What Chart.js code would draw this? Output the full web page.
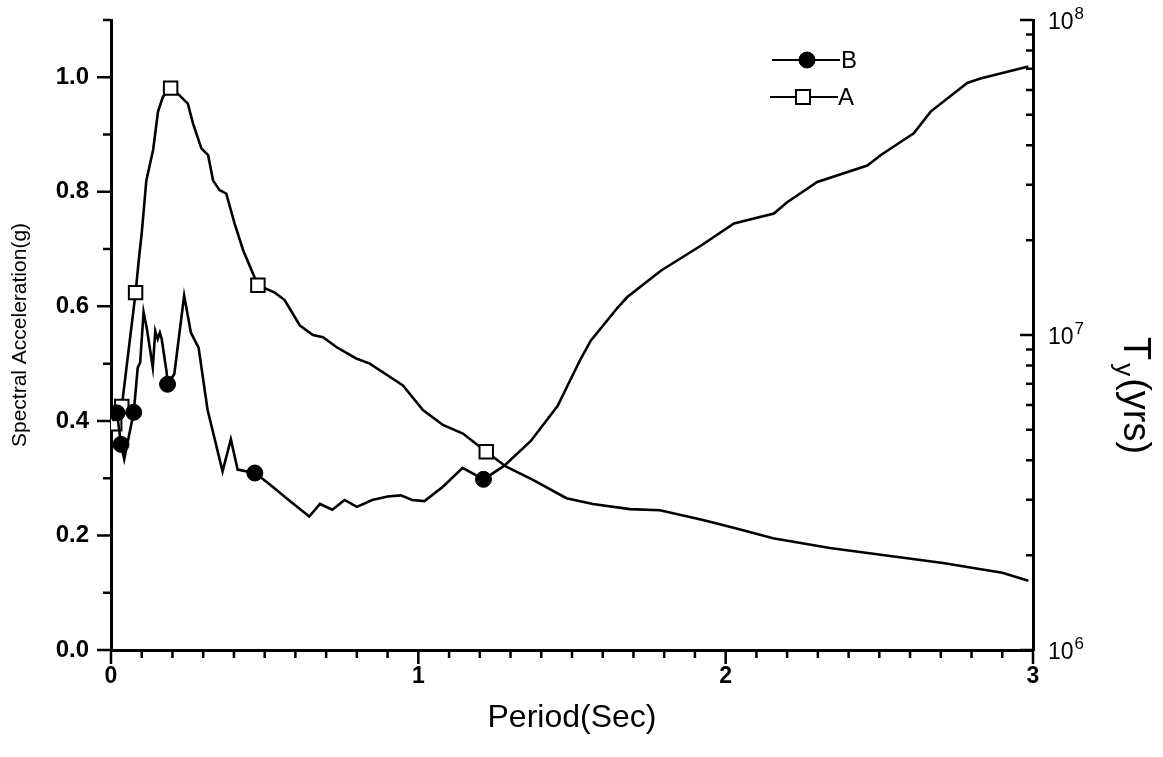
<!DOCTYPE html>
<html>
<head>
<meta charset="utf-8">
<script src="https://cdn.jsdelivr.net/npm/chart.js@4.4.1/dist/chart.umd.min.js"></script>
<style>
html,body{margin:0;padding:0;background:#fff;}
#wrap{width:1163px;height:757px;position:relative;}
</style>
</head>
<body>
<div id="wrap"><canvas id="c"></canvas></div>
<script>
// ---- Data ----
// Series B (filled circles): period (s), spectral acceleration (g)
const periodB = [0.005,0.0195,0.0325,0.043,0.074,0.087,0.095,0.106,0.117,0.136,0.144,0.152,0.159,0.165,0.181,0.184,0.206,0.238,0.26,0.285,0.314,0.363,0.39,0.412,0.468,0.51,0.575,0.645,0.68,0.72,0.76,0.80,0.85,0.90,0.943,0.98,1.02,1.08,1.144,1.212];
const accelB  = [0.40,0.414,0.359,0.333,0.415,0.493,0.502,0.59,0.56,0.493,0.557,0.543,0.554,0.543,0.485,0.464,0.482,0.619,0.554,0.528,0.42,0.312,0.368,0.315,0.309,0.292,0.263,0.233,0.255,0.245,0.262,0.25,0.262,0.268,0.27,0.262,0.26,0.285,0.318,0.298];
const markersB = [0.0195,0.0325,0.074,0.184,0.468,1.212];

// Series A (open squares)
const periodA = [0.003,0.012,0.035,0.08,0.091,0.10,0.115,0.137,0.153,0.169,0.194,0.218,0.25,0.267,0.294,0.316,0.332,0.353,0.375,0.402,0.43,0.478,0.533,0.565,0.614,0.657,0.69,0.733,0.798,0.842,0.95,1.015,1.08,1.145,1.221,1.286,1.373,1.482,1.568,1.688,1.786,1.926,2.035,2.154,2.339,2.48,2.707,2.9,2.985];
const accelA  = [0.385,0.395,0.425,0.624,0.684,0.728,0.82,0.873,0.94,0.966,0.981,0.971,0.954,0.919,0.876,0.864,0.82,0.803,0.797,0.745,0.698,0.637,0.624,0.611,0.567,0.55,0.546,0.529,0.509,0.5,0.462,0.419,0.393,0.378,0.346,0.32,0.297,0.265,0.255,0.246,0.244,0.227,0.212,0.195,0.178,0.168,0.152,0.135,0.121];
const markersA = [0.012,0.035,0.08,0.194,0.478,1.221];

// Ty (years), right log axis
const periodTy = [1.212,1.279,1.366,1.453,1.528,1.561,1.648,1.68,1.789,1.919,2.027,2.157,2.2,2.298,2.461,2.504,2.569,2.612,2.667,2.786,2.829,2.985];
const ty       = [3.48e6,3.84e6,4.61e6,5.95e6,8.39e6,9.59e6,1.22e7,1.32e7,1.60e7,1.92e7,2.26e7,2.43e7,2.64e7,3.06e7,3.45e7,3.72e7,4.10e7,4.37e7,5.12e7,6.31e7,6.52e7,7.12e7];

const xTickLabels = ['0','1','2','3'];
const yTickValues = [0,0.2,0.4,0.6,0.8,1.0];
const rightTickValues = [1e6,1e7,1e8];
const rightTickExponents = ['6','7','8'];

const FONT = "'Liberation Sans', Arial, sans-serif";

function toXY(xs, ys){ return xs.map((x,i)=>({x:x,y:ys[i]})); }
function markerRadius(markers, r){
  return ctx => markers.indexOf(ctx.raw ? ctx.raw.x : -1) >= 0 ? r : 0;
}
function noPad(s){ s.paddingTop = 0; s.paddingBottom = 0; s.paddingLeft = 0; s.paddingRight = 0; }

// tick drawing plugin
const axisTicks = {
  id:'axisTicks',
  afterDraw(chart){
    const c = chart.ctx, x = chart.scales.x, y = chart.scales.y, y2 = chart.scales.y2;
    const ca = chart.chartArea;
    c.save();
    c.strokeStyle = '#000'; c.lineWidth = 2.5; c.lineCap = 'butt';
    c.beginPath();
    // left axis ticks (outward)
    for (let i=0;i<=11;i++){
      const v = i/10, py = y.getPixelForValue(v);
      const len = (i%2===0) ? 14 : 8;
      c.moveTo(ca.left, py); c.lineTo(ca.left-len, py);
    }
    // bottom axis ticks (outward)
    for (let i=0;i<=30;i++){
      const v = i/10, px = x.getPixelForValue(v);
      const len = (i%10===0) ? 14 : 8;
      c.moveTo(px, ca.bottom); c.lineTo(px, ca.bottom+len);
    }
    // right axis ticks (inward, log)
    for (let d=6; d<=8; d++){
      for (let m=1; m<=9; m++){
        if (d===8 && m>1) break;
        const v = m*Math.pow(10,d), py = y2.getPixelForValue(v);
        const len = (m===1) ? 13 : 7;
        c.moveTo(ca.right, py); c.lineTo(ca.right-len, py);
      }
    }
    c.stroke();

    // right axis tick labels 10^n
    c.fillStyle = '#000'; c.textAlign = 'left'; c.textBaseline = 'alphabetic';
    rightTickValues.forEach((v,i)=>{
      const py = y2.getPixelForValue(v);
      c.font = '23px ' + FONT;
      c.fillText('10', ca.right + 15, py + 9);
      const w = c.measureText('10').width;
      c.font = '17px ' + FONT;
      c.fillText(rightTickExponents[i], ca.right + 15 + w + 1, py - 1);
    });

    // right axis title T_y(yrs)
    c.translate(1124, 337);
    c.rotate(Math.PI/2);
    c.textBaseline = 'alphabetic'; c.textAlign = 'left';
    c.font = '38px ' + FONT;
    c.fillText('T', 0, 0);
    const wT = c.measureText('T').width;
    c.font = '26px ' + FONT;
    c.fillText('y', wT + 3, 8);
    const wy = c.measureText('y').width;
    c.font = '38px ' + FONT;
    c.fillText('(yrs)', wT + wy + 5, 0);
    c.restore();

    // legend
    const items = [
      {ds: chart.data.datasets[0], y: 60, x0: 772, x1: 840, mx: 807, tx: 841},
      {ds: chart.data.datasets[1], y: 97, x0: 770, x1: 838, mx: 803, tx: 838}
    ];
    c.save();
    items.forEach(it=>{
      c.strokeStyle = '#000'; c.lineWidth = 2;
      c.beginPath(); c.moveTo(it.x0, it.y); c.lineTo(it.x1, it.y); c.stroke();
      c.fillStyle = it.ds.pointBackgroundColor; c.strokeStyle = '#000';
      c.lineWidth = it.ds.pointBorderWidth;
      c.beginPath();
      if (it.ds.pointStyle === 'circle') { c.arc(it.mx, it.y, it.ds.legendRadius, 0, Math.PI*2); }
      else { const s = it.ds.legendRadius; c.rect(it.mx - s, it.y - s, 2*s, 2*s); }
      c.fill(); c.stroke();
      c.fillStyle = '#000'; c.font = '24px ' + FONT;
      c.textBaseline = 'middle'; c.textAlign = 'left';
      c.fillText(it.ds.label, it.tx, it.y + 1);
    });
    c.restore();
  }
};

new Chart(document.getElementById('c'), {
  type: 'line',
  data: {
    datasets: [
      {
        label: 'B', data: toXY(periodB, accelB), yAxisID: 'y',
        borderColor: '#000', borderWidth: 2.6, tension: 0,
        pointStyle: 'circle', pointRadius: markerRadius(markersB, 8),
        pointBackgroundColor: '#000', pointBorderColor: '#000', pointBorderWidth: 1,
        legendRadius: 8
      },
      {
        label: 'A', data: toXY(periodA, accelA), yAxisID: 'y',
        borderColor: '#000', borderWidth: 2.6, tension: 0,
        pointStyle: 'rect', pointRadius: markerRadius(markersA, 9.5),
        pointBackgroundColor: '#fff', pointBorderColor: '#000', pointBorderWidth: 2,
        legendRadius: 7
      },
      {
        label: 'Ty', data: toXY(periodTy, ty), yAxisID: 'y2',
        borderColor: '#000', borderWidth: 2.6, tension: 0, pointRadius: 0
      }
    ]
  },
  options: {
    responsive: true, maintainAspectRatio: false, animation: false,
    layout: { padding: { top: 20, left: 0, right: 0, bottom: 0 } },
    plugins: { legend: { display: false }, tooltip: { enabled: false } },
    scales: {
      x: {
        type: 'linear', min: 0, max: 3,
        afterFit: s => { s.height = 107; noPad(s); },
        grid: { display: false, drawTicks: false },
        border: { display: true, color: '#000', width: 3 },
        ticks: { stepSize: 1, padding: 13, color: '#000',
                 font: { family: FONT, size: 23, weight: 'bold' },
                 callback: v => xTickLabels[Math.round(v)] },
        title: { display: true, text: 'Period(Sec)', color: '#000',
                 font: { family: FONT, size: 32 }, padding: { top: 0, bottom: 20 } }
      },
      y: {
        type: 'linear', position: 'left', min: 0, max: 1.1,
        afterFit: s => { s.width = 111; noPad(s); },
        afterBuildTicks: s => { s.ticks = yTickValues.map(v=>({value:v})); },
        grid: { display: false, drawTicks: false },
        border: { display: true, color: '#000', width: 3 },
        ticks: { padding: 22, color: '#000',
                 font: { family: FONT, size: 24, weight: 'bold' },
                 callback: v => v.toFixed(1) },
        title: { display: true, text: 'Spectral Acceleration(g)', color: '#000',
                 font: { family: FONT, size: 21 }, padding: { top: 8, bottom: 0 } }
      },
      y2: {
        type: 'logarithmic', position: 'right', min: 1e6, max: 1e8,
        afterFit: s => { s.width = 130; noPad(s); },
        grid: { display: false, drawTicks: false },
        border: { display: true, color: '#000', width: 3 },
        ticks: { display: false }
      }
    }
  },
  plugins: [axisTicks]
});
</script>
</body>
</html>
